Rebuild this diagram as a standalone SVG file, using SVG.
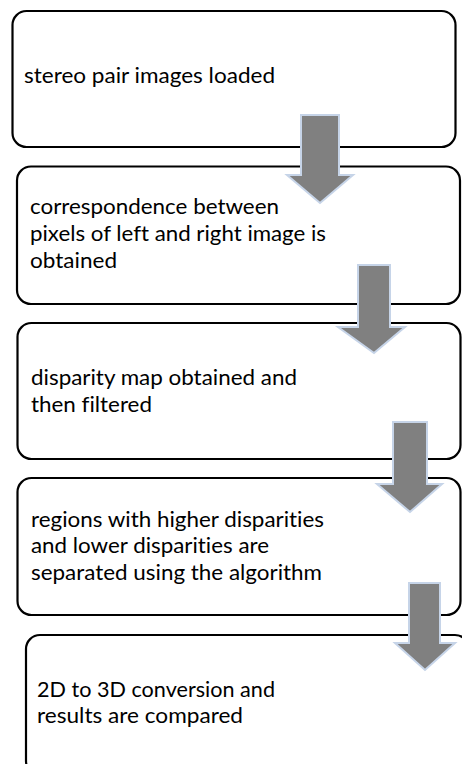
<svg xmlns="http://www.w3.org/2000/svg" width="462" height="764" viewBox="0 0 462 764">
<style>
.box{fill:#ffffff;stroke:#000000;stroke-width:2.2}
.arr{fill:#808080;stroke:#c6d4e8;stroke-width:2}
text{font-family:Lato,"Liberation Sans",Arial,sans-serif;font-size:20.5px;fill:#000000;font-variant-ligatures:none;font-feature-settings:"liga" 0,"clig" 0}
</style>
<rect width="462" height="764" fill="#ffffff"/>
<g id="node1">
<rect class="box" x="12.5" y="11" width="443" height="136" rx="14"/>
<text x="24" y="83" textLength="251" lengthAdjust="spacingAndGlyphs">stereo pair images loaded</text>
</g>
<g id="node2">
<rect class="box" x="17" y="166.5" width="443" height="137.5" rx="14"/>
<text x="30" y="214" textLength="249" lengthAdjust="spacingAndGlyphs">correspondence between</text>
<text x="30" y="241" textLength="296" lengthAdjust="spacingAndGlyphs">pixels of left and right image is</text>
<text x="30" y="268" textLength="87" lengthAdjust="spacingAndGlyphs">obtained</text>
</g>
<g id="node3">
<rect class="box" x="17.5" y="323" width="443" height="136" rx="14"/>
<text x="31" y="385" textLength="266" lengthAdjust="spacingAndGlyphs">disparity map obtained and</text>
<text x="31" y="412" textLength="121" lengthAdjust="spacingAndGlyphs">then filtered</text>
</g>
<g id="node4">
<rect class="box" x="17.5" y="478" width="443" height="137" rx="14"/>
<text x="31" y="527" textLength="293" lengthAdjust="spacingAndGlyphs">regions with higher disparities</text>
<text x="31" y="553" textLength="238" lengthAdjust="spacingAndGlyphs">and lower disparities are</text>
<text x="31" y="580" textLength="291" lengthAdjust="spacingAndGlyphs">separated using the algorithm</text>
</g>
<g id="node5">
<rect class="box" x="26" y="635" width="443" height="140" rx="14"/>
<text x="37" y="697" textLength="238" lengthAdjust="spacingAndGlyphs">2D to 3D conversion and</text>
<text x="37" y="723" textLength="206" lengthAdjust="spacingAndGlyphs">results are compared</text>
</g>
<g id="connectors">
<path class="arr" d="M301,115 H339 V175 H353 L320,203 L287,175 H301 Z"/>
<path class="arr" d="M358,265 H390 V327 H405 L374,353 L338,327 H358 Z"/>
<path class="arr" d="M393,422 H427 V484 H442 L410,512 L377,484 H393 Z"/>
<path class="arr" d="M409,583 H440 V643 H455 L425,670 L395,643 H409 Z"/>
</g>
</svg>
